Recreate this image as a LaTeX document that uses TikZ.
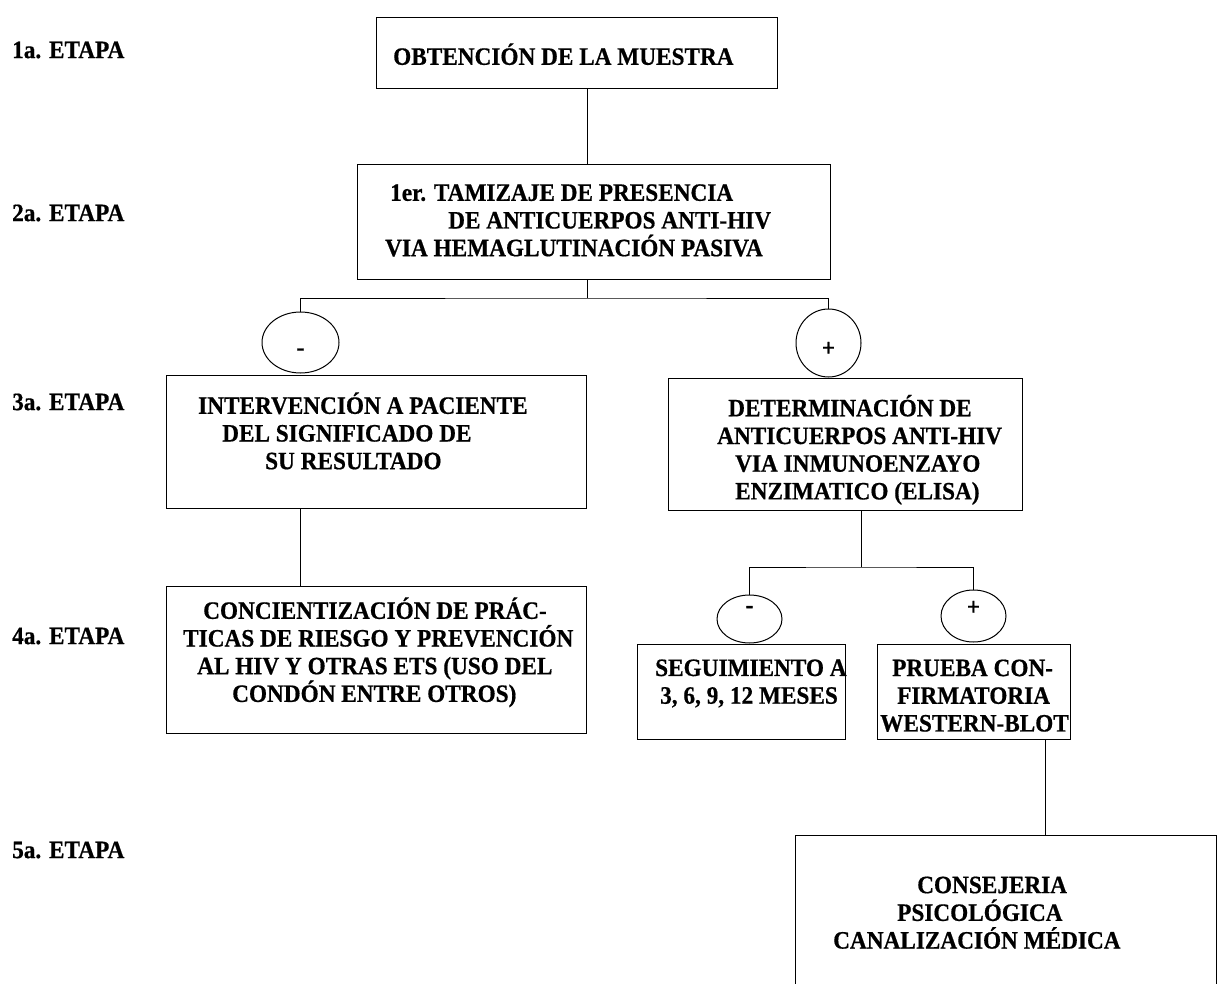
\documentclass[tikz,border=0pt]{standalone}
\usepackage{fontspec}
\setmainfont{Liberation Serif}[FakeStretch=0.93, BoldFeatures={FakeBold=0.6}]
\usetikzlibrary{shapes.geometric}
\begin{document}
\begin{tikzpicture}[x=1pt, y=-1pt, font=\bfseries\fontsize{25pt}{27.7pt}\selectfont,
	box/.style={draw, line width=1.1pt, inner sep=0, anchor=north west},
	sign/.style={draw, ellipse, line width=1pt, inner sep=0},
	txt/.style={inner sep=0, align=left, anchor=west}]
	\clip (0,0) rectangle (1223,984);
	\foreach \n/\y in {1/50, 2/213, 3/402, 4/636, 5/850}{
	\node[txt] (e\n) at (12,\y) {\n a. ETAPA};
	}
	% cajas
	\node[box, minimum width=401pt, minimum height=71pt] (b1) at (376,17) {};
	\node[box, minimum width=473pt, minimum height=115pt] (b2) at (357,164) {};
	\node[box, minimum width=420pt, minimum height=133pt] (b3l) at (166,375) {};
	\node[box, minimum width=354pt, minimum height=132pt] (b3r) at (668,378) {};
	\node[box, minimum width=420pt, minimum height=147pt] (b4l) at (166,586) {};
	\node[box, minimum width=208pt, minimum height=95pt] (b4s) at (637,644) {};
	\node[box, minimum width=193pt, minimum height=95pt] (b4p) at (877,644) {};
	\node[box, minimum width=421pt, minimum height=200pt] (b5) at (795,835) {};
	% resultados
	\node[sign, minimum width=77pt, minimum height=61pt] (m1) at (300.5,342.5) {\raisebox{-13pt}[0pt][0pt]{-}};
	\node[sign, minimum width=65pt, minimum height=68pt] (p1) at (828.5,343) {\raisebox{-13pt}[0pt][0pt]{+}};
	\node[sign, minimum width=65pt, minimum height=48pt] (m2) at (749.5,619) {\raisebox{6pt}[0pt][0pt]{-}};
	\node[sign, minimum width=65pt, minimum height=52pt] (p2) at (973.5,616) {\raisebox{1pt}[0pt][0pt]{+}};
	% textos
	\node[txt] (t1) at (393,54.2) {OBTENCIÓN DE LA MUESTRA};
	\node[txt] (t2) at (385,220.4) {\hspace*{5pt}1er. TAMIZAJE DE PRESENCIA\\\hspace*{63pt}DE ANTICUERPOS ANTI-HIV\\VIA HEMAGLUTINACIÓN PASIVA};
	\node[txt] (t3) at (198,430.9) {INTERVENCIÓN A PACIENTE\\\hspace*{24pt}DEL SIGNIFICADO DE\\\hspace*{67pt}SU RESULTADO};
	\node[txt] (t4) at (717,449.8) {\hspace*{11pt}DETERMINACIÓN DE\\ANTICUERPOS ANTI-HIV\\\hspace*{18pt}VIA INMUNOENZAYO\\\hspace*{18pt}ENZIMATICO (ELISA)};
	\node[txt] (t5) at (183,652.3) {\hspace*{20pt}CONCIENTIZACIÓN DE PRÁC-\\TICAS DE RIESGO Y PREVENCIÓN\\\hspace*{14pt}AL HIV Y OTRAS ETS (USO DEL\\\hspace*{49pt}CONDÓN ENTRE OTROS)};
	\node[txt] (t6) at (655,683.5) {SEGUIMIENTO A\\\hspace*{5pt}3, 6, 9, 12 MESES};
	\node[txt] (t7) at (880,695.7) {\hspace*{12pt}PRUEBA CON-\\\hspace*{17pt}FIRMATORIA\\WESTERN-BLOT};
	\node[txt] (t8) at (833,912.7) {\hspace*{84pt}CONSEJERIA\\\hspace*{64pt}PSICOLÓGICA\\CANALIZACIÓN MÉDICA};
	% conectores
	\path (587,298) coordinate (j1) (861,567) coordinate (j2) (1045,790) coordinate (j3);
	\draw[line width=0.9pt] (j1 |- b1.south)--(j1 |- b2.north);
	\draw[line width=0.9pt] (j1 |- b2.south)--(j1) (m1.north) |- (j1) -| (p1.north);
	\draw[line width=0.9pt] (m1 |- b3l.south)--(m1 |- b4l.north);
	\draw[line width=0.9pt] (j2 |- b3r.south)--(j2) (m2.north) |- (j2) -| (p2.north);
	\draw[line width=0.9pt] (j3 |- b4p.south)--(j3 |- b5.north);
\end{tikzpicture}
\end{document}
